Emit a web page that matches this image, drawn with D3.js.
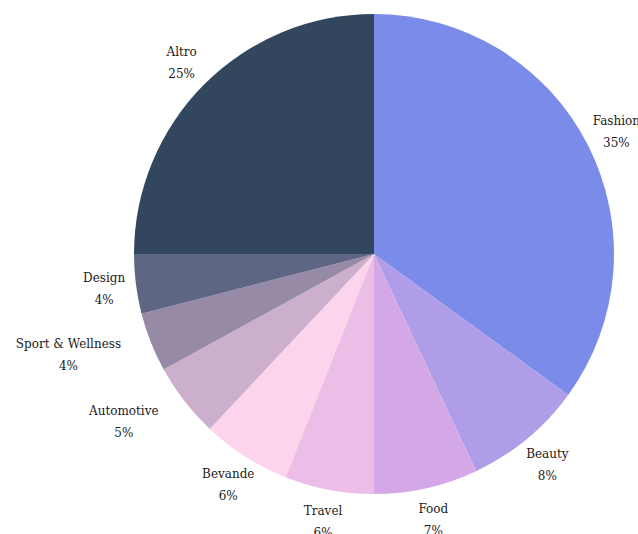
<!DOCTYPE html>
<html>
<head>
<meta charset="utf-8">
<script src="https://cdn.jsdelivr.net/npm/d3@7"></script>
<style>
  body { margin: 0; background: #fff; }
  .label { font-family: "DejaVu Serif", serif; font-size: 12px; fill: #1a1a1a; }
</style>
</head>
<body>
<div id="chart"></div>
<script>
const categories = ["Fashion", "Beauty", "Food", "Travel", "Bevande", "Automotive", "Sport & Wellness", "Design", "Altro"];
const shares = [35, 8, 7, 6, 6, 5, 4, 4, 25];
const colors = ["#7b8be9", "#b09de8", "#d4a8e6", "#ecbde7", "#fcd4eb", "#ccafcc", "#978aa7", "#5e6683", "#32475e"];

const width = 638, height = 534;
const cx = 374, cy = 254, radius = 240, labelRadius = 272;

const data = categories.map((c, i) => ({ name: c, value: shares[i] }));

const svg = d3.select("#chart")
    .append("svg")
    .attr("width", width)
    .attr("height", height);

const g = svg.append("g")
    .attr("transform", `translate(${cx}, ${cy})`);

const pie = d3.pie().sort(null).value(d => d.value);
const arc = d3.arc().innerRadius(0).outerRadius(radius);
const labelArc = d3.arc().innerRadius(labelRadius).outerRadius(labelRadius);

const colorScale = d3.scaleOrdinal().domain(categories).range(colors);

const arcs = pie(data);

g.selectAll("path")
    .data(arcs)
    .join("path")
    .attr("d", arc)
    .attr("fill", d => colorScale(d.data.name));

// labels: name + percent, centred outside each slice
const labels = g.selectAll("text")
    .data(arcs)
    .join("text")
    .attr("class", "label")
    .attr("text-anchor", "middle")
    .attr("transform", d => `translate(${labelArc.centroid(d)})`);

labels.append("tspan")
    .attr("x", 0)
    .attr("y", -6)
    .text(d => d.data.name);

labels.append("tspan")
    .attr("x", 0)
    .attr("y", 16)
    .text(d => d.data.value + "%");

// if a centred label would run into the pie, slide the whole block outward by half its width
labels.each(function (d) {
    const [x, y] = labelArc.centroid(d);
    const w = this.getBBox().width;
    const corners = [[x - w / 2, y - 17], [x + w / 2, y - 17], [x - w / 2, y + 20], [x + w / 2, y + 20]];
    const hits = corners.some(([px, py]) => Math.hypot(px, py) < radius - 5);
    if (hits) {
        const nx = x < 0 ? x - w / 2 : x + w / 2;
        d3.select(this).attr("transform", `translate(${nx}, ${y})`);
    }
});
</script>
</body>
</html>
